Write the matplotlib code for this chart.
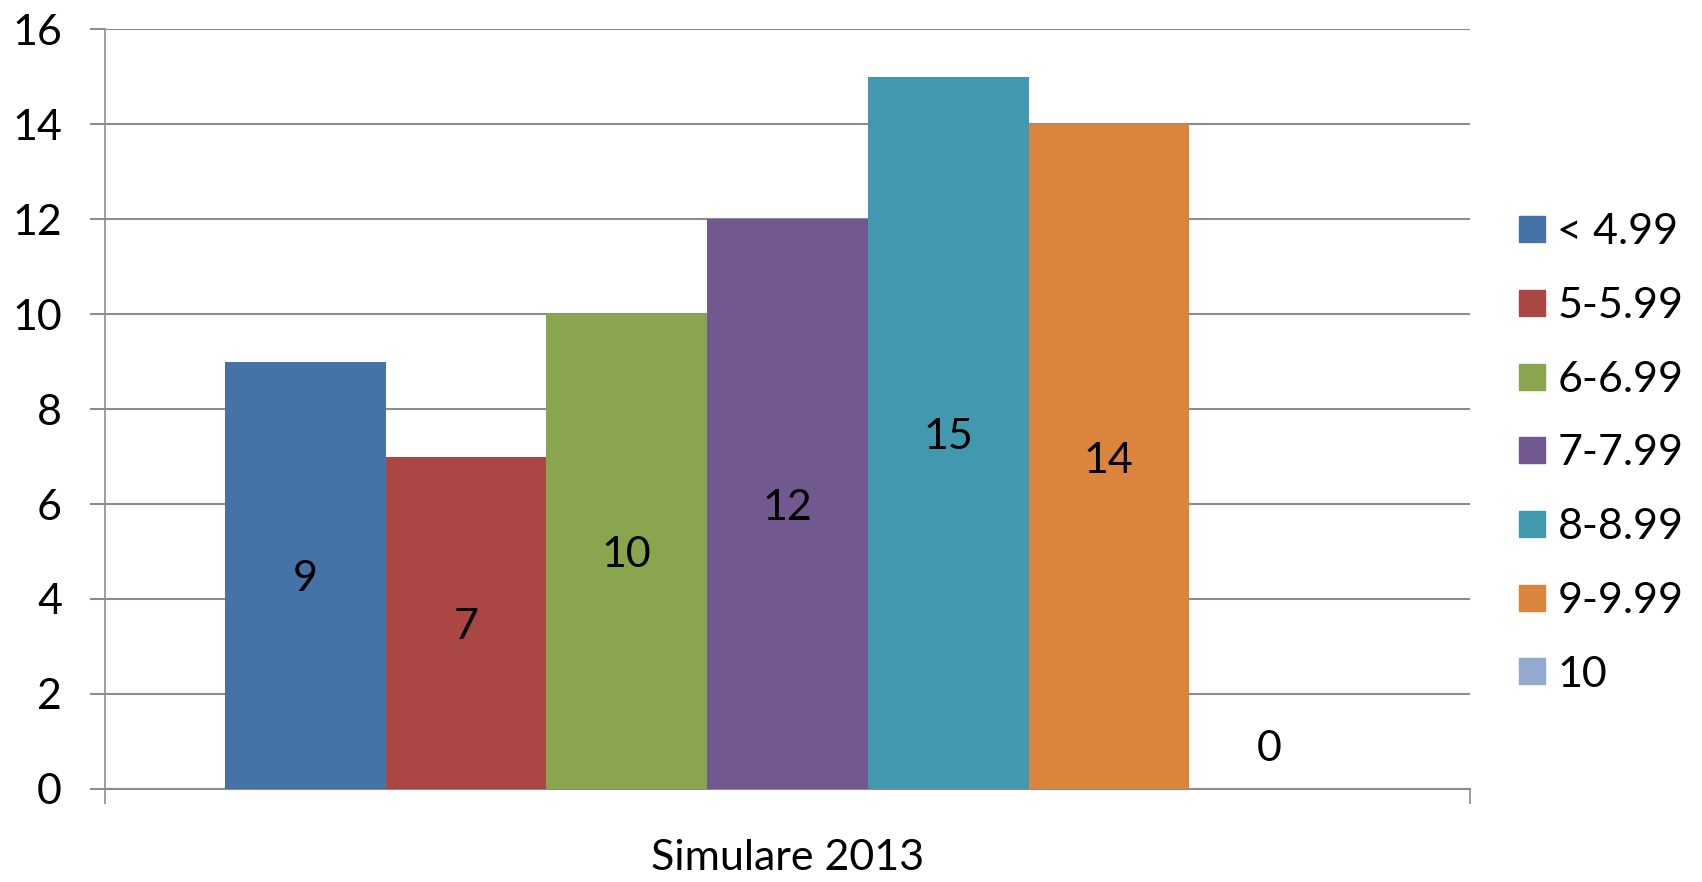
import matplotlib
matplotlib.use('Agg')
import matplotlib.pyplot as plt
from matplotlib.lines import Line2D

# data
categorie = ['Simulare 2013']
intervale = ['< 4.99', '5-5.99', '6-6.99', '7-7.99', '8-8.99', '9-9.99', '10']
valori = [9, 7, 10, 12, 15, 14, 0]
culori = ['#4572A7', '#AA4643', '#89A54E', '#71588F', '#4198AF', '#DB843D', '#93A9CF']

plt.rcParams['font.family'] = ['Lato', 'DejaVu Sans']

fig = plt.figure(figsize=(17.02, 8.82), dpi=100)
ax = fig.add_axes([0.0617, 0.1057, 0.802, 0.8609])

n = len(valori)
w = 0.824 / n
for i, (v, c) in enumerate(zip(valori, culori)):
    x = (i - (n - 1) / 2) * w
    ax.bar(x, v, width=w, color=c, zorder=3)
    # eticheta la mijlocul barei; 0 putin deasupra axei
    dy = -4 if v > 0 else 40
    ax.annotate(str(v), (x, v / 2), xytext=(0, dy), textcoords='offset pixels',
                ha='center', va='center', fontsize=31, zorder=4)

ax.set_xlim(-0.5, 0.5)
ax.set_ylim(0, 16)
ax.set_yticks(range(0, 17, 2))
ax.yaxis.grid(True, color='#8c8c8c', linewidth=1.5, zorder=0)
ax.tick_params(axis='y', length=11, width=1.5, color='#8c8c8c', labelsize=31, pad=20)

ax.set_xticks([-0.5, 0.5])
ax.set_xticklabels(['', ''])
ax.tick_params(axis='x', length=11, width=1.2, color='#8c8c8c')
ax.set_xticks([0], minor=True)
ax.set_xticklabels(categorie, minor=True, fontsize=31)
ax.tick_params(axis='x', which='minor', length=0, pad=36)

for s in ['top', 'right']:
    ax.spines[s].set_visible(False)
ax.spines['left'].set_color('#8c8c8c')
ax.spines['left'].set_linewidth(1.2)
ax.spines['bottom'].set_color('#8c8c8c')
ax.spines['bottom'].set_linewidth(1.5)

handles = [Line2D([], [], marker='s', linestyle='', markersize=19, color=c) for c in culori]
fig.legend(handles, intervale, loc='center left', bbox_to_anchor=(0.891, 0.486),
           frameon=False, fontsize=31, handlelength=0.7, handletextpad=0.25,
           labelspacing=0.83, borderpad=0, borderaxespad=0)

fig.savefig('out.png', dpi=100)
